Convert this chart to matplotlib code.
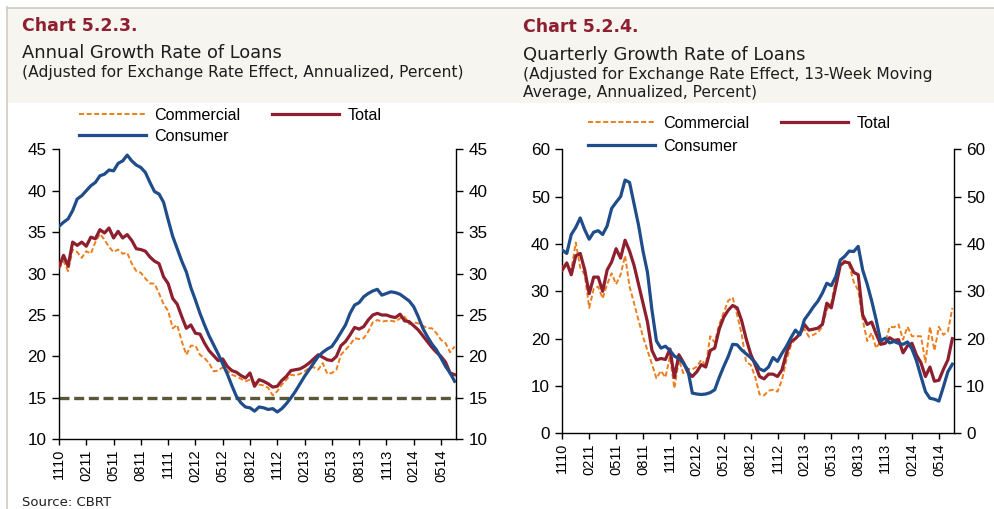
import numpy as np
import matplotlib
matplotlib.use("Agg")
import matplotlib.pyplot as plt
from matplotlib.lines import Line2D

# ---------------- data (half-month steps starting Nov 2010) ----------------
step_months = 0.5
tick_labels = ["1110", "0211", "0511", "0811", "1111", "0212", "0512", "0812",
               "1112", "0213", "0513", "0813", "1113", "0214", "0514"]

annual_consumer = [35.7, 36.2, 36.6, 37.6, 39.0, 39.4, 40.0, 40.6, 41.0, 41.8,
                   42.0, 42.5, 42.4, 43.3, 43.6, 44.3, 43.6, 43.1, 42.8, 42.2,
                   41.0, 39.9, 39.6, 38.6, 36.5, 34.5, 33.0, 31.5, 30.2, 28.3,
                   26.8, 25.2, 23.8, 22.5, 21.4, 20.3, 19.1, 17.9, 16.5, 15.2,
                   14.4, 13.9, 13.8, 13.4, 13.9, 13.8, 13.6, 13.7, 13.3, 13.7,
                   14.3, 15.0, 15.8, 16.7, 17.6, 18.4, 19.2, 20.0, 20.5, 20.9,
                   21.2, 22.0, 22.9, 23.8, 25.2, 26.2, 26.5, 27.2, 27.6, 27.9,
                   28.1, 27.4, 27.6, 27.8, 27.7, 27.5, 27.1, 26.7, 26.0, 24.8,
                   23.4, 22.4, 21.5, 20.8, 19.8, 18.8, 18.0, 17.0]
annual_total = [30.8, 32.2, 30.9, 33.8, 33.4, 33.8, 33.3, 34.4, 34.2, 35.3,
                34.9, 35.5, 34.3, 35.1, 34.3, 34.7, 34.0, 33.0, 32.9, 32.7,
                32.0, 31.5, 31.2, 29.6, 28.8, 27.0, 26.3, 24.8, 23.4, 23.8,
                22.8, 22.7, 21.6, 20.7, 20.1, 19.5, 19.7, 18.8, 18.3, 18.1,
                17.7, 17.4, 18.0, 16.4, 17.2, 17.0, 16.7, 16.3, 16.4, 17.1,
                17.6, 18.3, 18.4, 18.5, 18.8, 19.2, 19.7, 20.2, 19.9, 19.6,
                19.5, 20.0, 21.3, 21.8, 22.6, 23.5, 23.3, 23.6, 24.4, 25.0,
                25.2, 25.0, 25.0, 24.8, 24.7, 25.1, 24.3, 24.2, 23.7, 23.2,
                22.5, 21.8, 21.1, 20.5, 20.0, 19.3, 18.0, 17.8]
annual_commercial = [30.6, 31.5, 30.3, 32.9, 32.6, 31.9, 32.7, 32.4, 33.8, 34.8,
                     34.1, 33.2, 32.6, 32.9, 32.4, 32.5, 31.2, 30.3, 30.1, 29.4,
                     28.8, 28.8, 27.6, 26.3, 25.5, 23.4, 23.8, 21.8, 20.2, 21.3,
                     21.3, 20.2, 19.8, 19.2, 18.2, 18.3, 18.7, 18.3, 17.8, 17.6,
                     17.3, 17.0, 17.2, 16.9, 16.6, 16.5, 16.2, 15.3, 15.8, 16.6,
                     17.2, 17.8, 17.7, 17.9, 18.2, 18.6, 18.7, 18.4, 19.2, 17.9,
                     18.0, 18.4, 20.2, 20.8, 21.4, 22.2, 22.1, 22.2, 23.0, 24.1,
                     24.4, 24.2, 24.3, 24.3, 24.2, 24.6, 24.8, 23.9, 24.1, 24.0,
                     23.7, 23.4, 23.4, 22.8, 22.0, 21.6, 20.5, 21.2]
annual_threshold = 15

quarterly_consumer = [38.7, 38.0, 42.0, 43.5, 45.5, 43.0, 41.0, 42.5, 42.8, 42.0,
                      43.8, 47.5, 48.8, 50.0, 53.5, 53.0, 48.5, 44.0, 38.5, 34.0,
                      26.0, 19.5, 18.0, 18.4, 17.5, 16.3, 15.8, 14.8, 13.4, 8.5,
                      8.3, 8.2, 8.3, 8.6, 9.2, 11.8, 14.1, 16.2, 18.8, 18.7,
                      17.6, 16.8, 16.0, 15.0, 13.6, 13.2, 14.0, 16.0, 15.2, 16.9,
                      18.4, 20.2, 21.8, 20.8, 24.0, 25.3, 26.7, 27.9, 29.6, 31.7,
                      31.2, 33.1, 36.6, 37.4, 38.5, 38.4, 39.5, 34.5, 31.5, 28.0,
                      24.0, 19.5, 20.1, 19.1, 19.4, 19.0, 18.8, 19.3, 17.8, 15.3,
                      12.0, 8.8, 7.4, 7.2, 6.8, 9.8, 13.0, 14.6]
quarterly_total = [34.5, 36.0, 33.5, 37.5, 38.0, 34.5, 29.5, 33.0, 33.0, 30.0,
                   34.5, 36.2, 39.0, 37.0, 40.8, 38.5, 35.5, 31.5, 27.5, 23.5,
                   17.5, 15.5, 15.8, 15.6, 17.8, 11.8, 16.6, 15.0, 12.9, 12.0,
                   13.0, 14.5, 14.0, 17.5, 18.0, 22.0, 24.5, 26.0, 27.0, 26.5,
                   23.8, 20.0, 16.8, 14.5, 12.0, 11.5, 12.5, 12.5, 12.0, 13.4,
                   17.0, 19.4, 20.0, 21.0, 23.0, 21.8, 22.0, 22.2, 23.0, 27.5,
                   26.5, 31.0, 35.5, 36.2, 36.0, 34.0, 33.5, 25.0, 23.0, 23.5,
                   21.0, 18.8, 19.0, 20.2, 19.6, 19.8, 17.0, 18.5, 19.0, 16.5,
                   14.9, 12.0, 14.0, 11.0, 11.2, 13.5, 15.5, 20.0]
quarterly_commercial = [35.2, 35.5, 34.5, 40.3, 35.0, 33.5, 26.5, 30.5, 31.0, 28.5,
                        31.5, 33.8, 31.5, 33.5, 37.5, 31.0, 27.5, 23.9, 20.4, 17.5,
                        14.6, 11.6, 13.2, 11.8, 16.2, 9.5, 15.5, 12.7, 13.6, 13.5,
                        14.1, 15.5, 14.4, 20.5, 19.2, 23.0, 25.5, 28.0, 28.7, 25.0,
                        21.0, 15.0, 14.5, 12.0, 8.2, 8.0, 9.0, 9.2, 8.8, 11.3,
                        15.5, 18.6, 20.0, 21.2, 22.0, 20.4, 20.8, 21.3, 22.5, 26.1,
                        27.5, 32.4, 36.0, 36.5, 35.5, 32.0, 30.2, 24.0, 19.5, 21.2,
                        18.0, 19.5, 19.0, 22.5, 22.4, 23.0, 19.8, 22.5, 20.5, 20.5,
                        20.5, 15.0, 22.5, 17.5, 22.5, 20.8, 21.5, 26.5]

# ---------------- style ----------------
W, H = 995, 509
C_COM = "#EE7D1E"
C_TOT = "#8E1F2E"
C_CON = "#1F4C8A"
C_REF = "#5A5738"
C_TITLE = "#8E1F30"
C_TEXT = "#1E1E1E"
BEIGE = "#F6F5F0"

fig = plt.figure(figsize=(W / 100, H / 100), dpi=100)
fig.patch.set_facecolor("white")


def fx(px):
    return px / W


def fy(py):
    return 1 - py / H


# header background and frame lines
fig.patches.append(plt.Rectangle((fx(8), fy(103)), fx(W - 8), 95 / H,
                                 transform=fig.transFigure, facecolor=BEIGE,
                                 edgecolor="none", zorder=0))
fig.add_artist(Line2D([fx(7), fx(W)], [fy(7.5), fy(7.5)], color="#CFCAC0", lw=1.2))
fig.add_artist(Line2D([fx(7.5), fx(7.5)], [fy(7), 0], color="#CFCAC0", lw=1.2))

tick_font = "Liberation Sans"


def make_panel(left_px, right_px, top_px, bottom_px, ylim, yticks, comm, tot, cons,
               legend_xy, label_spacing, threshold=None):
    ax = fig.add_axes([fx(left_px), fy(bottom_px), fx(right_px - left_px),
                       (bottom_px - top_px) / H])
    x = np.arange(len(tot)) * step_months
    ax.plot(x, comm, color=C_COM, lw=1.4, dashes=(2.6, 1.3), label="Commercial", zorder=3)
    ax.plot(x, tot, color=C_TOT, lw=2.3, label="Total", zorder=4)
    ax.plot(x, cons, color=C_CON, lw=2.3, label="Consumer", zorder=5)
    if threshold is not None:
        ax.axhline(threshold, color=C_REF, lw=2.4, dashes=(3.0, 1.4), zorder=2)
    ax.set_xlim(0, (len(tot) - 1) * step_months + 0.15)
    ax.set_ylim(*ylim)
    ax.set_yticks(yticks)
    ax.set_xticks(np.arange(len(tick_labels)) * 3)
    ax.set_xticklabels(tick_labels, rotation=90, fontsize=10.5, family=tick_font)
    ax.tick_params(axis="y", which="both", left=True, right=True, labelleft=True,
                   labelright=True, direction="out", length=5, width=1,
                   labelsize=12.3, pad=4)
    ax.tick_params(axis="x", direction="out", length=4, width=1, pad=3)
    for lab in ax.get_yticklabels():
        lab.set_family(tick_font)
    ax.spines["top"].set_visible(False)
    for s in ("left", "right", "bottom"):
        ax.spines[s].set_linewidth(1.0)
        ax.spines[s].set_color("black")
    h = ax.get_lines()
    fig.legend([h[0], h[2], h[1]], ["Commercial", "Consumer", "Total"],
               ncol=2, loc="upper left",
               bbox_to_anchor=(fx(legend_xy[0]), fy(legend_xy[1])),
               frameon=False, handlelength=4.15,
               handletextpad=0.5, columnspacing=2.0, labelspacing=label_spacing,
               borderpad=0, borderaxespad=0, prop={"family": tick_font, "size": 11.6})
    return ax


make_panel(59, 456, 149.3, 439.3, (10, 45), np.arange(10, 46, 5),
           annual_commercial, annual_total, annual_consumer, (79, 108), 0.37,
           threshold=annual_threshold)
make_panel(562.3, 953.7, 149.3, 433.3, (0, 60), np.arange(0, 61, 10),
           quarterly_commercial, quarterly_total, quarterly_consumer, (588, 116), 0.5)

# titles
fig.text(fx(22), fy(26), "Chart 5.2.3.", color=C_TITLE, fontsize=12.5,
         fontweight="bold", family="DejaVu Sans", va="center")
fig.text(fx(22), fy(53), "Annual Growth Rate of Loans", color=C_TEXT, fontsize=12.9,
         family="DejaVu Sans", va="center")
fig.text(fx(22), fy(72.5), "(Adjusted for Exchange Rate Effect, Annualized, Percent)",
         color=C_TEXT, fontsize=11.2, family="DejaVu Sans", va="center")

fig.text(fx(523), fy(27.5), "Chart 5.2.4.", color=C_TITLE, fontsize=12.5,
         fontweight="bold", family="DejaVu Sans", va="center")
fig.text(fx(523), fy(54.5), "Quarterly Growth Rate of Loans", color=C_TEXT, fontsize=12.9,
         family="DejaVu Sans", va="center")
fig.text(fx(523), fy(75), "(Adjusted for Exchange Rate Effect, 13-Week Moving",
         color=C_TEXT, fontsize=11.2, family="DejaVu Sans", va="center")
fig.text(fx(523), fy(93), "Average, Annualized, Percent)",
         color=C_TEXT, fontsize=11.2, family="DejaVu Sans", va="center")

fig.text(fx(22), fy(502), "Source: CBRT", color=C_TEXT, fontsize=9.5,
         family="DejaVu Sans", va="center")

fig.savefig("out.png", dpi=100)
